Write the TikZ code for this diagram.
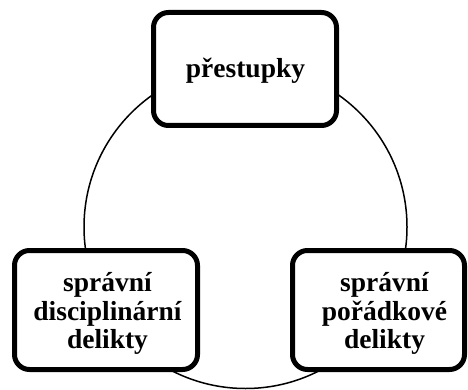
\documentclass[tikz,border=0pt]{standalone}
\usepackage{fontspec}
\setmainfont{Liberation Serif}
\begin{document}
\begin{tikzpicture}[x=1pt,y=-1pt,
  boxframe/.style={draw=black,line width=5pt,rounded corners=15pt,fill=white,inner sep=0pt},
  boxtext/.style={font=\fontsize{27.5pt}{28.3pt}\selectfont\bfseries,align=center,inner sep=0pt,anchor=base}]
\useasboundingbox (0,0) rectangle (468,390);
\node[draw=black,line width=1.5pt,circle,minimum size=323pt,inner sep=0pt] (ring) at (245.5,227) {};
\node[boxframe,minimum width=183pt,minimum height=113pt] (top) at (245,69) {};
\node[boxframe,minimum width=183pt,minimum height=119pt] (left) at (106,310) {};
\node[boxframe,minimum width=172pt,minimum height=119pt] (right) at (378.5,310) {};
\node[boxtext] (toptext) at (245.5,78) {přestupky};
\node[boxtext] (lefttext) at (107.5,348.5) {správní\\disciplinární\\delikty};
\node[boxtext] (righttext) at (384.5,348.5) {správní\\pořádkové\\delikty};
\end{tikzpicture}
\end{document}
